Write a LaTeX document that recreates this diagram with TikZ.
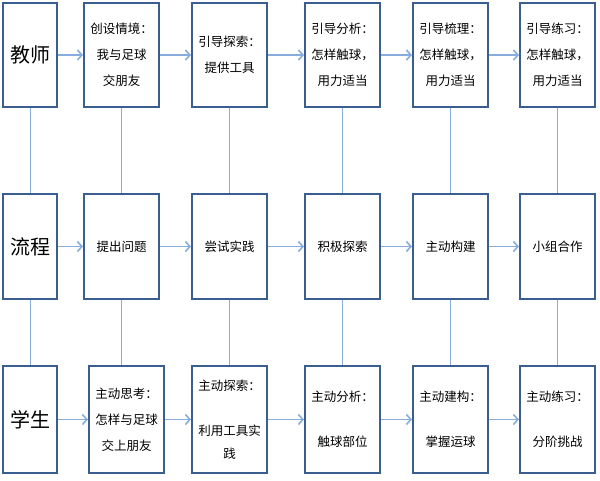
\documentclass[tikz,border=0pt]{standalone}
\usepackage{fontspec}
\newfontfamily\cjk{Noto Sans CJK SC}
\usetikzlibrary{arrows.meta}

\definecolor{boxline}{HTML}{3B5E91}
\definecolor{flowline}{HTML}{86ADDE}

\tikzset{
  stepbox/.style={draw=boxline, line width=2pt, minimum width=75pt, inner sep=0pt,
    align=center, font=\cjk\fontsize{12.5}{26}\selectfont},
  rolebox/.style={stepbox, minimum width=54pt, font=\cjk\fontsize{20}{22}\selectfont},
  toprow/.style={minimum height=104pt},
  midrow/.style={minimum height=105pt},
  botrow/.style={minimum height=107pt},
  link/.style={draw=flowline, line width=1pt},
  flow/.style={draw=flowline, line width=1.6pt, -{Straight Barb[length=4.5pt,width=10pt]}},
}

\begin{document}
\begin{tikzpicture}[x=1pt, y=-1pt]
    \useasboundingbox (0,0) rectangle (600,480);

    % Teacher row
    \node[rolebox, toprow] (t0) at (30,55) {教师};
    \node[stepbox, toprow] (t1) at (121.5,55) {创设情境：\\我与足球\\交朋友};
    \node[stepbox, toprow] (t2) at (229.5,55) {引导探索：\\提供工具};
    \node[stepbox, toprow] (t3) at (342.5,55) {引导分析：\\怎样触球，\\用力适当};
    \node[stepbox, toprow] (t4) at (450.5,55) {引导梳理：\\怎样触球，\\用力适当};
    \node[stepbox, toprow] (t5) at (557.5,55) {引导练习：\\怎样触球，\\用力适当};

    % Process row
    \node[rolebox, midrow] (m0) at (30,246.5) {流程};
    \node[stepbox, midrow] (m1) at (121.5,246.5) {提出问题};
    \node[stepbox, midrow] (m2) at (229.5,246.5) {尝试实践};
    \node[stepbox, midrow] (m3) at (342.5,246.5) {积极探索};
    \node[stepbox, midrow] (m4) at (450.5,246.5) {主动构建};
    \node[stepbox, midrow] (m5) at (557.5,246.5) {小组合作};

    % Student row
    \node[rolebox, botrow] (s0) at (30,419.5) {学生};
    \node[stepbox, botrow] (s1) at (126.5,419.5) {主动思考：\\怎样与足球\\交上朋友};
    \node[stepbox, botrow] (s2) at (229.5,419.5) {主动探索：\\[19pt]利用工具实\\[-3pt]践};
    \node[stepbox, botrow] (s3) at (342.5,419.5) {主动分析：\\[19pt]触球部位};
    \node[stepbox, botrow] (s4) at (450.5,419.5) {主动建构：\\[19pt]掌握运球};
    \node[stepbox, botrow] (s5) at (557.5,419.5) {主动练习：\\[19pt]分阶挑战};

    % Vertical links
    \draw[link] (t0) -- (m0) -- (s0);
    \draw[link] (t1) -- (m1);
    \draw[link] (m1.south) -- (m1.south |- s1.north);
    \draw[link] (t2) -- (m2) -- (s2);
    \draw[link] (t3) -- (m3) -- (s3);
    \draw[link] (t4) -- (m4) -- (s4);
    \draw[link] (t5) -- (m5) -- (s5);

    % Arrows along each row
    \draw[flow] (t0) -- (t1);
    \draw[flow] (t1) -- (t2);
    \draw[flow] (t2) -- (t3);
    \draw[flow] (t3) -- (t4);
    \draw[flow] (t4) -- (t5);

    \draw[flow] (m0) -- (m1);
    \draw[flow] (m1) -- (m2);
    \draw[flow] (m2) -- (m3);
    \draw[flow] (m3) -- (m4);
    \draw[flow] (m4) -- (m5);

    \draw[flow] (s0) -- (s1);
    \draw[flow] (s1) -- (s2);
    \draw[flow] (s2) -- (s3);
    \draw[flow] (s3) -- (s4);
    \draw[flow] (s4) -- (s5);

\end{tikzpicture}
\end{document}
